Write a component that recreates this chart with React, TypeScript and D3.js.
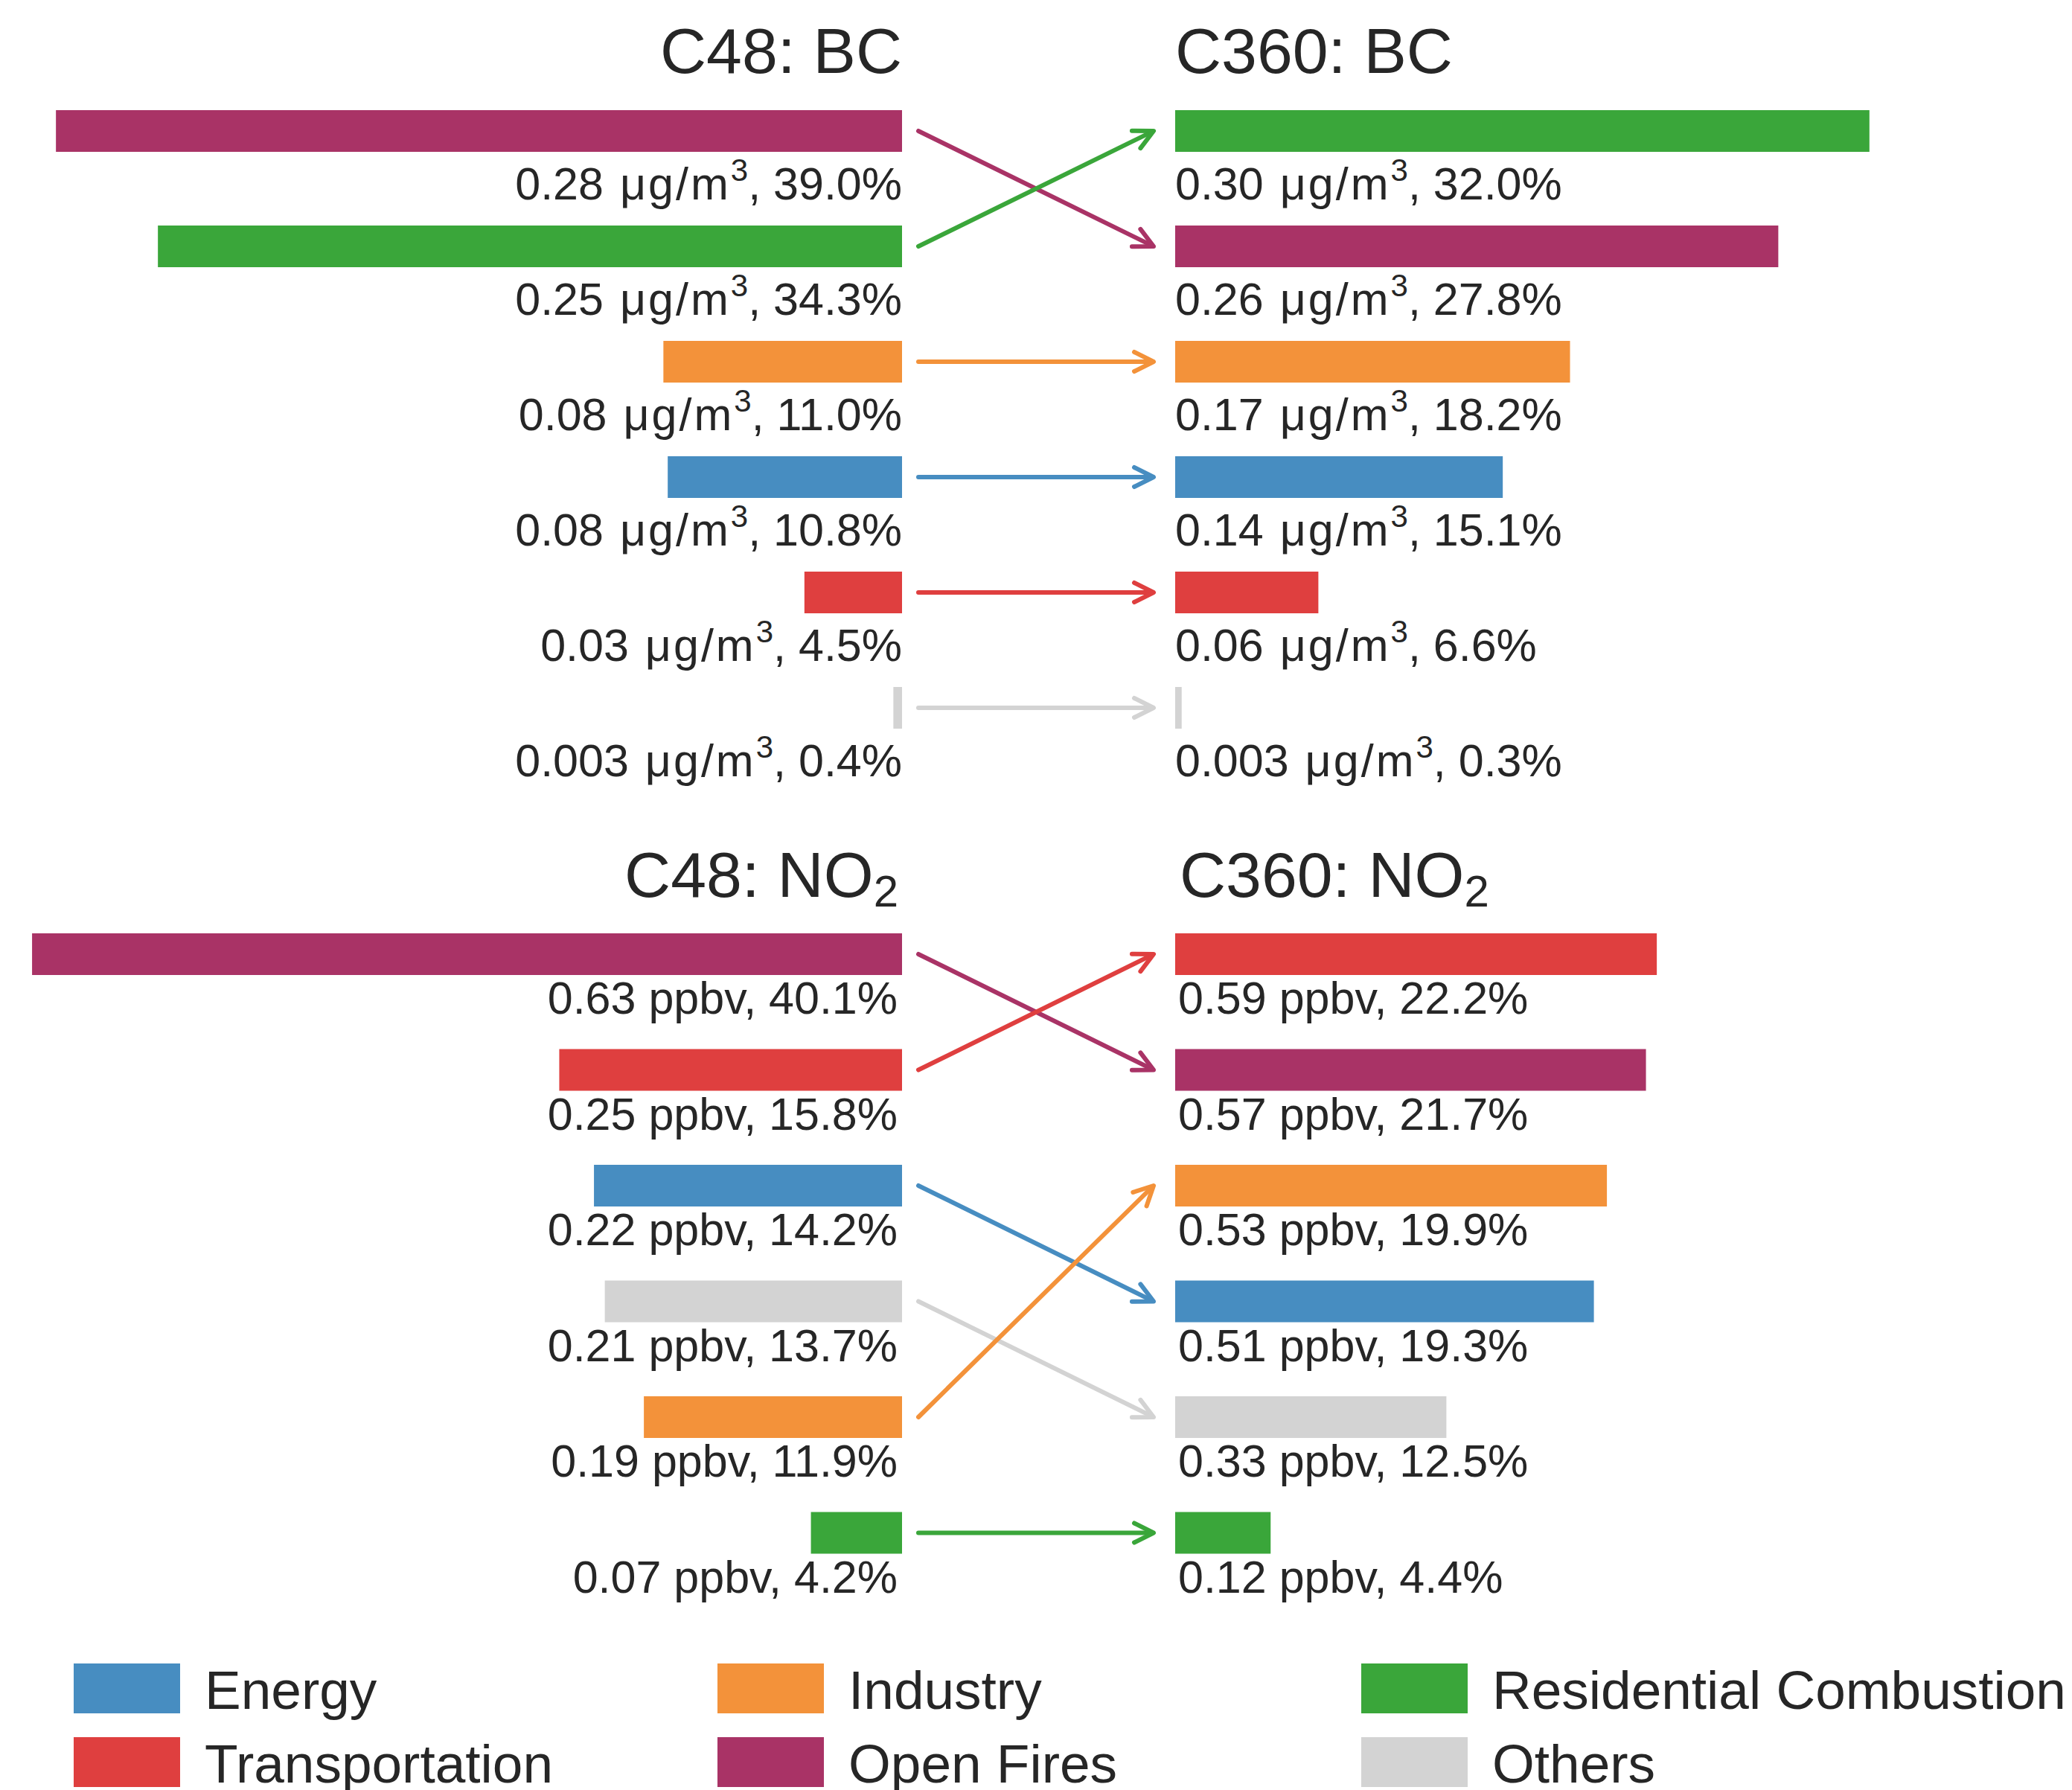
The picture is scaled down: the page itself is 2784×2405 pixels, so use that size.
import React from "react";
import * as d3 from "d3";

const categories = ["Energy", "Industry", "Residential Combustion", "Transportation", "Open Fires", "Others"];
const categoryColors = ["#478dc1", "#f3923a", "#3aa63a", "#df3f3f", "#a93366", "#d3d3d3"];
const legendOrder = ["Energy", "Transportation", "Industry", "Open Fires", "Residential Combustion", "Others"];

// BC panels (µg/m³, %)
const bcC48Cats = ["Open Fires", "Residential Combustion", "Industry", "Energy", "Transportation", "Others"];
const bcC48Vals = [0.28, 0.25, 0.08, 0.08, 0.03, 0.003];
const bcC48Pct = [39.0, 34.3, 11.0, 10.8, 4.5, 0.4];
const bcC360Cats = ["Residential Combustion", "Open Fires", "Industry", "Energy", "Transportation", "Others"];
const bcC360Vals = [0.30, 0.26, 0.17, 0.14, 0.06, 0.003];
const bcC360Pct = [32.0, 27.8, 18.2, 15.1, 6.6, 0.3];

// NO2 panels (ppbv, %)
const no2C48Cats = ["Open Fires", "Transportation", "Energy", "Others", "Industry", "Residential Combustion"];
const no2C48Vals = [0.63, 0.25, 0.22, 0.21, 0.19, 0.07];
const no2C48Pct = [40.1, 15.8, 14.2, 13.7, 11.9, 4.2];
const no2C360Cats = ["Transportation", "Open Fires", "Industry", "Energy", "Others", "Residential Combustion"];
const no2C360Vals = [0.59, 0.57, 0.53, 0.51, 0.33, 0.12];
const no2C360Pct = [22.2, 21.7, 19.9, 19.3, 12.5, 4.4];

const color = d3.scaleOrdinal<string, string>().domain(categories).range(categoryColors);
const TXT = "#262626";
const FONT = "'Liberation Sans', Arial, Helvetica, sans-serif";

const fmtVal = (v: number) => (v < 0.01 ? v.toFixed(3) : v.toFixed(2));
const fmtPct = (p: number) => p.toFixed(1) + "%";

// shared length scale (percent -> px)
const len = d3.scaleLinear().domain([0, 40]).range([0, 1166]);

const LEFT_EDGE = 1212;
const RIGHT_EDGE = 1579;
const ARROW_X0 = 1234;
const ARROW_X1 = 1550;
const BAR_H = 56;

function Arrow({ x0, y0, x1, y1, c }: { x0: number; y0: number; x1: number; y1: number; c: string }) {
  const dx = x1 - x0, dy = y1 - y0;
  const L = Math.hypot(dx, dy);
  const ux = dx / L, uy = dy / L;
  const nx = -uy, ny = ux;
  const hl = 26, hw = 13;
  const bx = x1 - ux * hl, by = y1 - uy * hl;
  const d = `M${bx + nx * hw},${by + ny * hw} L${x1},${y1} L${bx - nx * hw},${by - ny * hw}`;
  return (
    <g stroke={c} strokeWidth={6} fill="none" strokeLinecap="round" strokeLinejoin="round">
      <line x1={x0} y1={y0} x2={x1 - ux * 2} y2={y1 - uy * 2} />
      <path d={d} />
    </g>
  );
}

function Panel({
  leftCats, leftVals, leftPct, rightCats, rightVals, rightPct, unit, top, step, labelOffset,
  leftLabelEdge, rightLabelEdge,
}: any) {
  const y = d3.scaleLinear().domain([0, 1]).range([top, top + step]);
  const label = (v: number, p: number) =>
    unit === "bc" ? (
      <>
        <tspan>{fmtVal(v) + " "}</tspan>
        <tspan dx={5} letterSpacing={3}>μg/m</tspan>
        <tspan fontSize={42} dy={-25}>3</tspan>
        <tspan dy={25}>, {fmtPct(p)}</tspan>
      </>
    ) : (
      <tspan>{fmtVal(v)} ppbv, {fmtPct(p)}</tspan>
    );
  return (
    <g>
      {leftCats.map((c: string, i: number) => (
        <g key={"l" + i}>
          <rect x={LEFT_EDGE - len(leftPct[i])} y={y(i)} width={len(leftPct[i])} height={BAR_H} fill={color(c)} />
          <text x={leftLabelEdge} y={y(i) + labelOffset} textAnchor="end" fontSize={61} fill={TXT} xmlSpace="preserve">
            {label(leftVals[i], leftPct[i])}
          </text>
        </g>
      ))}
      {rightCats.map((c: string, i: number) => (
        <g key={"r" + i}>
          <rect x={RIGHT_EDGE} y={y(i)} width={len(rightPct[i])} height={BAR_H} fill={color(c)} />
          <text x={rightLabelEdge} y={y(i) + labelOffset} textAnchor="start" fontSize={61} fill={TXT} xmlSpace="preserve">
            {label(rightVals[i], rightPct[i])}
          </text>
        </g>
      ))}
      {leftCats.map((c: string, i: number) => {
        const j = rightCats.indexOf(c);
        return (
          <Arrow key={"a" + i} x0={ARROW_X0} y0={y(i) + BAR_H / 2} x1={ARROW_X1} y1={y(j) + BAR_H / 2} c={color(c)} />
        );
      })}
    </g>
  );
}

export default function App() {
  return (
    <svg
      width={2784}
      height={2405}
      style={{ position: "absolute", left: 0, top: 0, background: "#fff" }}
      fontFamily={FONT}
    >
      <rect x={0} y={0} width={2784} height={2405} fill="#fff" />
      {/* Titles */}
      <text x={1212} y={98} textAnchor="end" fontSize={86} fill={TXT}>C48: BC</text>
      <text x={1579} y={98} textAnchor="start" fontSize={86} fill={TXT}>C360: BC</text>
      <text x={1207} y={1205} textAnchor="end" fontSize={86} fill={TXT}>
        C48: NO<tspan fontSize={60} dy={13}>2</tspan>
      </text>
      <text x={1585} y={1205} textAnchor="start" fontSize={86} fill={TXT}>
        C360: NO<tspan fontSize={60} dy={13}>2</tspan>
      </text>

      <Panel
        leftCats={bcC48Cats} leftVals={bcC48Vals} leftPct={bcC48Pct}
        rightCats={bcC360Cats} rightVals={bcC360Vals} rightPct={bcC360Pct}
        unit="bc" top={148} step={155} labelOffset={120}
        leftLabelEdge={1212} rightLabelEdge={1579}
      />
      <Panel
        leftCats={no2C48Cats} leftVals={no2C48Vals} leftPct={no2C48Pct}
        rightCats={no2C360Cats} rightVals={no2C360Vals} rightPct={no2C360Pct}
        unit="no2" top={1254} step={155.5} labelOffset={108}
        leftLabelEdge={1206} rightLabelEdge={1583}
      />

      {/* Legend */}
      {legendOrder.map((c, k) => {
        const col = Math.floor(k / 2);
        const row = k % 2;
        const x = 99 + col * 865;
        const yy = 2235 + row * 99;
        return (
          <g key={c}>
            <rect x={x} y={yy} width={143} height={67} fill={color(c)} />
            <text x={x + 176} y={yy + 61} fontSize={73} fill={TXT}>{c}</text>
          </g>
        );
      })}
    </svg>
  );
}
